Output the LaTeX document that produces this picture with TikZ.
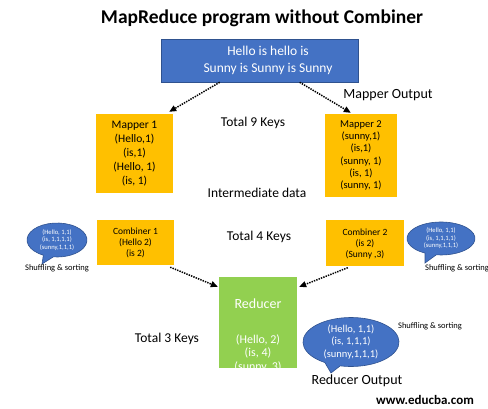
\documentclass[tikz,border=0pt]{standalone}
\usepackage{fontspec}
\setmainfont{Carlito}
\usetikzlibrary{arrows.meta,calc}
\definecolor{boxblue}{HTML}{4472C4}
\definecolor{edgeblue}{HTML}{2F528F}
\definecolor{boxorange}{HTML}{FFC000}
\definecolor{boxgreen}{HTML}{92D050}
\tikzset{
  fs/.style={font=\fontsize{#1}{18}\selectfont},
  bluebox/.style={draw=edgeblue, line width=0.6pt, fill=boxblue, inner sep=0pt},
  orangebox/.style={fill=boxorange, inner sep=0pt, align=center},
  greenbox/.style={fill=boxgreen, inner sep=0pt},
  dotarrow/.style={line width=1.5pt, dash pattern=on 1.4pt off 1.1pt, -{Triangle[length=7pt,width=6pt]}, black},
  bubble/.style={fill=boxblue, draw=edgeblue, line width=0.6pt},
  plain/.style={inner sep=0pt, align=center},
  wtext/.style={inner sep=0pt, align=center, text=white},
}
\begin{document}
\begin{tikzpicture}[x=1pt, y=-1pt]
\useasboundingbox (0,0) rectangle (488,409);
% title
\node[plain, font=\fontsize{19.5}{22}\selectfont\bfseries] (title) at (262,18) {MapReduce program without Combiner};
% input
\node[bluebox, minimum width=197pt, minimum height=43pt] (input) at (259.5,60.5) {};
\node[wtext, font=\fontsize{13.5}{17}\selectfont] (inputtext) at (268,60.5) {Hello is hello is\\Sunny is Sunny is Sunny};
% mappers
\node[orangebox, minimum width=77pt, minimum height=79pt, font=\fontsize{11.5}{13.8}\selectfont] (m1) at (134.5,153.5) {Mapper 1\\(Hello,1)\\(is,1)\\(Hello, 1)\\(is, 1)};
\node[orangebox, minimum width=72pt, minimum height=83pt, font=\fontsize{10.5}{12.2}\selectfont] (m2) at (361,155.5) {Mapper 2\\(sunny,1)\\(is,1)\\(sunny, 1)\\(is, 1)\\(sunny, 1)};
% combiners
\node[orangebox, minimum width=77pt, minimum height=45pt, font=\fontsize{9.5}{11}\selectfont] (c1) at (135.5,242.5) {Combiner 1\\(Hello 2)\\(is 2)};
\node[orangebox, minimum width=78pt, minimum height=46pt, font=\fontsize{9.5}{11}\selectfont] (c2) at (365,243.5) {Combiner 2\\(is 2)\\(Sunny ,3)};
% reducer
\node[greenbox, minimum width=78pt, minimum height=91pt] (red) at (258,322.5) {};
\node[wtext, font=\fontsize{14}{17}\selectfont] (redtitle) at (258,304) {Reducer};
\node[wtext, font=\fontsize{12}{13.3}\selectfont] (redtext) at (258,353.5) {(Hello, 2)\\(is, 4)\\(sunny, 3)};
% labels
\node[plain, fs=14] (mapout) at (388,95) {Mapper Output};
\node[plain, fs=13.5] (t9) at (253,123) {Total 9 Keys};
\node[plain, fs=13.5] (inter) at (257,193) {Intermediate data};
\node[plain, fs=13.5] (t4) at (259,237) {Total 4 Keys};
\node[plain, fs=13.5] (t3) at (167,339) {Total 3 Keys};
\node[plain, fs=14] (redout) at (357,381) {Reducer Output};
\node[plain, font=\fontsize{13}{15}\selectfont\bfseries] (web) at (425,400) {www.educba.com};
% bubbles
\coordinate (b1c) at (57,240);
\coordinate (b1tip) at (42,264);
\draw[bubble] ($(b1c)+(117:30 and 17)$) arc[start angle=117, end angle=457, x radius=30, y radius=17] -- (b1tip) -- cycle;
\node[wtext, font=\fontsize{6.6}{7.6}\selectfont] (b1text) at (b1c) {(Hello, 1,1)\\(is, 1,1,1,1)\\(sunny,1,1,1)};
\node[plain, fs=8.5] (ss1) at (57,268.5) {Shuffling \& sorting};
\coordinate (b2c) at (441,238.5);
\coordinate (b2tip) at (425,263);
\draw[bubble] ($(b2c)+(118:34 and 16.5)$) arc[start angle=118, end angle=458, x radius=34, y radius=16.5] -- (b2tip) -- cycle;
\node[wtext, font=\fontsize{6.6}{7.6}\selectfont] (b2text) at (b2c) {(Hello, 1,1)\\(is, 1,1,1,1)\\(sunny,1,1,1)};
\node[plain, fs=8.5] (ss2) at (457,268.5) {Shuffling \& sorting};
\coordinate (b3c) at (351,342);
\coordinate (b3tip) at (331,373);
\draw[bubble] ($(b3c)+(123:48 and 24.5)$) arc[start angle=123, end angle=463, x radius=48, y radius=24.5] -- (b3tip) -- cycle;
\node[wtext, font=\fontsize{10.5}{12.5}\selectfont] (b3text) at (b3c) {(Hello, 1,1)\\(is, 1,1,1)\\(sunny,1,1,1)};
\node[plain, fs=8.5] (ss3) at (430,326) {Shuffling \& sorting};
% arrows
\draw[dotarrow] ($(input.south west)+(59,0)$) -- ($(m1.north east)+(-4,-2)$);
\draw[dotarrow] ($(input.south west)+(139,0)$) -- ($(m2.north west)+(26,-1)$);
\draw[dotarrow] ($(c1.south east)+(-4,2)$) -- ($(red.north west)+(-1,10)$);
\draw[dotarrow] ($(c2.south west)+(22,1)$) -- ($(red.north east)+(2,10)$);
\end{tikzpicture}
\end{document}
